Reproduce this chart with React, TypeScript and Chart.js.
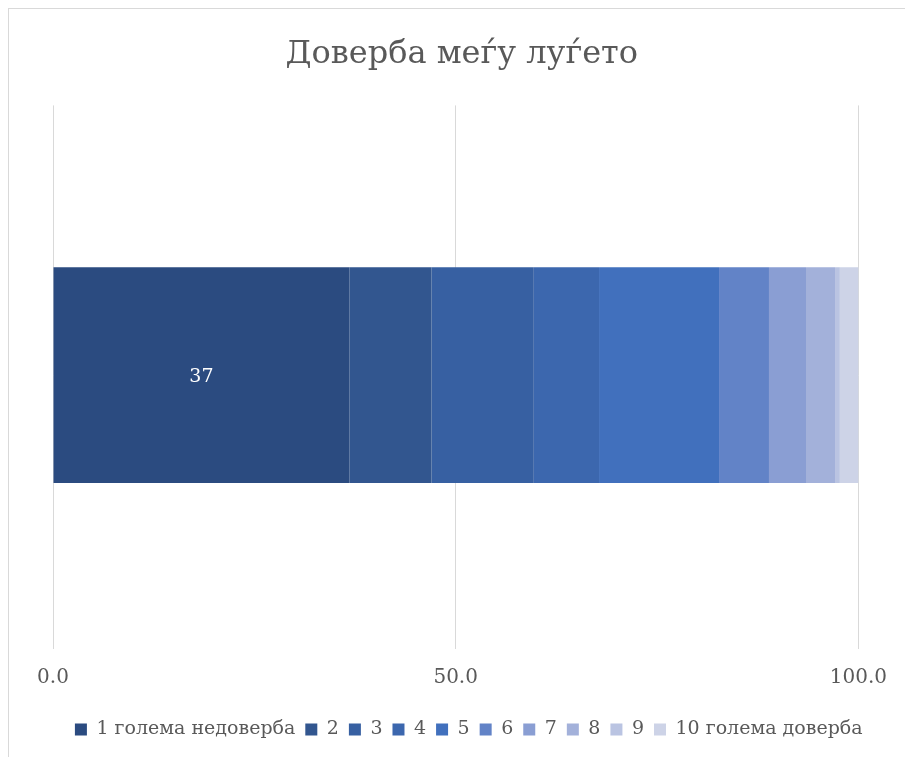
import React, { useEffect, useRef } from "react";
import { Chart, registerables } from "chart.js";

Chart.register(...registerables);

const categories = [""];
const seriesNames = [
  "1 голема недоверба",
  "2",
  "3",
  "4",
  "5",
  "6",
  "7",
  "8",
  "9",
  "10 голема доверба",
];
const seriesValues = [36.8, 10.2, 12.7, 8.1, 14.9, 6.2, 4.6, 3.6, 0.6, 2.4];
const seriesColors = [
  "#2B4B80",
  "#32568F",
  "#3760A2",
  "#3C67AE",
  "#4170BD",
  "#6283C7",
  "#8A9ED3",
  "#A3B1DA",
  "#BAC4E2",
  "#CDD3E7",
];
const dataLabels = ["37", "", "", "", "", "", "", "", "", ""];
const xTicks = [0, 50, 100];
const title = "Доверба меѓу луѓето";

const FONT = "'DejaVu Serif', 'Liberation Serif', serif";
const TEXT = "#595959";

const labelPlugin = {
  id: "segLabels",
  afterDatasetsDraw(chart: any) {
    const ctx = chart.ctx;
    ctx.save();
    ctx.fillStyle = "#FFFFFF";
    ctx.font = `19px ${FONT}`;
    ctx.textAlign = "center";
    ctx.textBaseline = "middle";
    chart.data.datasets.forEach((ds: any, i: number) => {
      const txt = dataLabels[i];
      if (!txt) return;
      const meta = chart.getDatasetMeta(i);
      meta.data.forEach((el: any) => {
        const p = el.getCenterPoint();
        ctx.fillText(txt, p.x, p.y + 2);
      });
    });
    ctx.restore();
  },
};

// The original chart is wider than the visible window; re-centre title and legend.
const shiftPlugin = {
  id: "shiftBlocks",
  afterLayout(chart: any) {
    const t = chart.titleBlock;
    if (t) {
      t.left += 28;
      t.right += 28;
    }
    const l = chart.legend;
    if (l) {
      l.left += 35;
      l.right += 35;
      l.top += 3;
      l.bottom += 3;
    }
  },
};

export default function App() {
  const ref = useRef<HTMLCanvasElement | null>(null);
  useEffect(() => {
    if (!ref.current) return;
    const chart = new Chart(ref.current, {
      type: "bar",
      data: {
        labels: categories,
        datasets: seriesNames.map((name, i) => ({
          label: name,
          data: [seriesValues[i]],
          backgroundColor: seriesColors[i],
          borderWidth: 0,
          barPercentage: 0.4,
          categoryPercentage: 1.0,
        })),
      },
      options: {
        indexAxis: "y",
        animation: false,
        responsive: false,
        maintainAspectRatio: false,
        layout: { padding: { left: 0, right: 38.5, top: 0, bottom: 3 } },
        scales: {
          x: {
            stacked: true,
            min: 0,
            max: 100,
            afterBuildTicks: (axis: any) => {
              axis.ticks = xTicks.map((v) => ({ value: v }));
            },
            grid: { color: "#D9D9D9", lineWidth: 1, tickLength: 4, drawTicks: true },
            border: { display: false },
            ticks: {
              color: TEXT,
              font: { family: FONT, size: 20, lineHeight: "38px" },
              padding: 10,
              maxRotation: 0,
              callback: (v: any) => Number(v).toFixed(1),
            },
          },
          y: {
            stacked: true,
            display: true,
            grid: { display: false },
            border: { display: false },
            ticks: { display: false },
            afterFit: (axis: any) => {
              axis.width = 44;
            },
          },
        },
        plugins: {
          title: {
            display: true,
            text: title,
            color: TEXT,
            font: { family: FONT, size: 32, weight: "normal", lineHeight: 1.2 },
            padding: { top: 26, bottom: 32 },
          },
          legend: {
            position: "bottom",
            labels: {
              color: TEXT,
              font: { family: FONT, size: 19 },
              boxWidth: 12,
              boxHeight: 12,
              padding: 10,
            },
          },
          tooltip: { enabled: false },
        },
      },
      plugins: [labelPlugin, shiftPlugin],
    });
    return () => chart.destroy();
  }, []);
  return (
    <div
      style={{
        position: "fixed",
        left: 8,
        top: 8,
        borderLeft: "1px solid #D9D9D9",
        borderTop: "1px solid #D9D9D9",
        width: 920,
        height: 770,
        background: "#FFFFFF",
      }}
    >
      <canvas ref={ref} width={888} height={740} style={{ display: "block" }} />
    </div>
  );
}
